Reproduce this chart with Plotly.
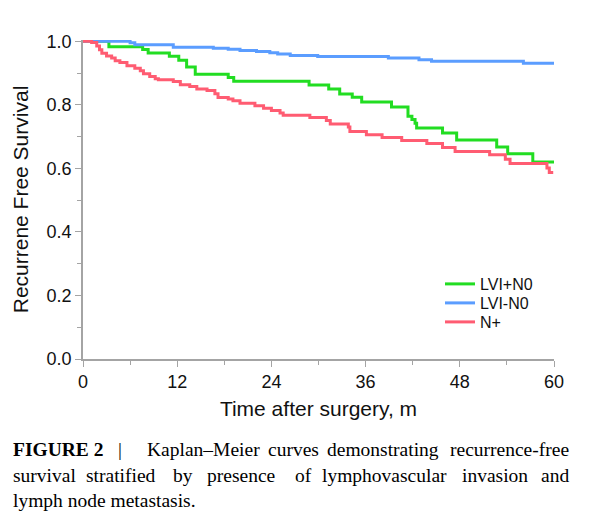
import plotly.graph_objects as go

# ---------------- data ----------------
months_lvi_pos_n0 = [0, 3.3, 7.6, 8.3, 11.0, 12.2, 13.2, 14.3, 18.5, 19.2, 28.8, 31.3, 32.7, 34.3, 35.5,
                     39.3, 41.4, 41.9, 42.3, 42.5, 45.8, 47.6, 52.7, 54.1, 57.3, 60]
surv_lvi_pos_n0 = [1.0, 0.983, 0.974, 0.963, 0.953, 0.940, 0.919, 0.896, 0.886, 0.874, 0.862, 0.850, 0.834,
                   0.824, 0.809, 0.793, 0.764, 0.754, 0.742, 0.727, 0.711, 0.689, 0.667, 0.646, 0.620, 0.620]

months_lvi_neg_n0 = [0, 6.0, 6.6, 11.5, 16.6, 18.5, 20.0, 22.1, 23.8, 24.8, 26.4, 29.9, 38.9, 42.8, 44.4, 56.1, 60]
surv_lvi_neg_n0 = [1.0, 0.995, 0.989, 0.981, 0.978, 0.975, 0.971, 0.968, 0.964, 0.960, 0.955, 0.952, 0.947,
                   0.942, 0.937, 0.931, 0.931]

months_n_pos = [0, 1.1, 1.75, 2.1, 2.4, 3.0, 3.65, 4.1, 4.7, 5.6, 6.6, 7.3, 7.7, 8.5, 9.2, 9.6, 11.5, 12.4,
                13.6, 14.5, 15.8, 16.8, 17.2, 18.5, 19.1, 20.0, 21.9, 23.0, 24.0, 25.1, 25.5, 28.9, 31.0,
                31.5, 33.8, 34.0, 36.1, 38.1, 40.6, 43.8, 45.8, 47.4, 51.8, 53.8, 54.4, 59.1, 59.4, 59.9]
surv_n_pos = [1.0, 0.996, 0.985, 0.973, 0.962, 0.954, 0.947, 0.939, 0.933, 0.923, 0.915, 0.907, 0.898,
              0.889, 0.882, 0.879, 0.873, 0.863, 0.858, 0.850, 0.845, 0.835, 0.823, 0.818, 0.813, 0.805,
              0.797, 0.789, 0.782, 0.774, 0.767, 0.760, 0.751, 0.740, 0.730, 0.716, 0.706, 0.697, 0.688,
              0.678, 0.666, 0.653, 0.643, 0.629, 0.615, 0.601, 0.587, 0.587]

series_names = ["LVI+N0", "LVI-N0", "N+"]
series_colors = ["#22dd22", "#5b9dff", "#ff5c72"]

x_ticks = [0, 12, 24, 36, 48, 60]
y_ticks = [0.0, 0.2, 0.4, 0.6, 0.8, 1.0]

caption_lines = [
    ["<b>FIGURE 2</b>", "|", "Kaplan–Meier", "curves", "demonstrating", "recurrence-free"],
    ["survival", "stratified", "by", "presence", "of", "lymphovascular", "invasion", "and"],
    ["lymph node metastasis."],
]
caption_word_x = [
    [10.6, 120, 203.5, 293, 383, 571],
    [10.6, 121, 183, 241, 303, 384, 495, 571],
    [10.6],
]
caption_line_y = [449, 475, 500]

# ---------------- figure ----------------
OFF = 8  # default page body margin
W, H = 589 - OFF, 518 - OFF
L, R, T, B = 83 - OFF, 35, 40 - OFF, 159
pw, ph = W - L - R, H - T - B


def px2paper_x(page_px):
    return (page_px - OFF - L) / pw


def py2paper_y(page_py):
    return (H - B - (page_py - OFF)) / ph


legend_keys = ["legend", "legend2", "legend3"]
legend_row_y = [284, 303, 322]

fig = go.Figure()
for xs, ys, name, col, lk in zip([months_lvi_pos_n0, months_lvi_neg_n0, months_n_pos],
                                 [surv_lvi_pos_n0, surv_lvi_neg_n0, surv_n_pos],
                                 series_names, series_colors, legend_keys):
    fig.add_trace(go.Scatter(x=xs, y=ys, mode="lines", name=name, legend=lk,
                             line=dict(color=col, width=3, shape="hv")))

axis_col = "#a4a4a4"
fig.update_xaxes(range=[0, 60], tickvals=x_ticks, ticks="outside", ticklen=6, tickcolor=axis_col,
                 showline=True, linecolor=axis_col, linewidth=1.5, showgrid=False, zeroline=False,
                 automargin=False,
                 tickfont=dict(family="Liberation Sans, Arial", size=18, color="#111"),
                 minor=dict(dtick=6, ticks="outside", ticklen=4, tickcolor=axis_col),
                 title=dict(text="Time after surgery, m",
                            font=dict(family="Liberation Sans, Arial", size=21, color="#111"),
                            standoff=10))
fig.update_yaxes(range=[0, 1.004], tickvals=y_ticks, tickformat=".1f", ticks="outside", ticklen=6,
                 tickcolor=axis_col, showline=True, linecolor=axis_col, linewidth=1.5, showgrid=False,
                 zeroline=False, automargin=False,
                 tickfont=dict(family="Liberation Sans, Arial", size=18, color="#111"),
                 minor=dict(dtick=0.1, ticks="outside", ticklen=4, tickcolor=axis_col),
                 title=dict(text="Recurrene Free Survival",
                            font=dict(family="Liberation Sans, Arial", size=21, color="#111"),
                            standoff=12))

annotations = []
for words, xs, yy in zip(caption_lines, caption_word_x, caption_line_y):
    n = len(words)
    for i, (w, xx) in enumerate(zip(words, xs)):
        anchor = "left" if i == 0 else ("right" if i == n - 1 else "center")
        if n == 1:
            anchor = "left"
        annotations.append(dict(text=w, x=px2paper_x(xx), y=py2paper_y(yy), xref="paper", yref="paper",
                                xanchor=anchor, yanchor="middle", showarrow=False,
                                font=dict(family="Liberation Serif, Times New Roman", size=19.5,
                                          color="#000")))

leg_common = dict(xanchor="left", yanchor="top", bgcolor="rgba(0,0,0,0)",
                  font=dict(family="Liberation Sans, Arial", size=16, color="#111"), itemwidth=30)
layout_legends = {}
for lk, ry in zip(legend_keys, legend_row_y):
    layout_legends[lk] = dict(x=px2paper_x(440), y=py2paper_y(ry - 17), **leg_common)

fig.update_layout(
    width=W, height=H, margin=dict(l=L, r=R, t=T, b=B, autoexpand=False),
    plot_bgcolor="white", paper_bgcolor="white",
    showlegend=True,
    annotations=annotations,
    **layout_legends,
)

fig.write_html("out.html")
